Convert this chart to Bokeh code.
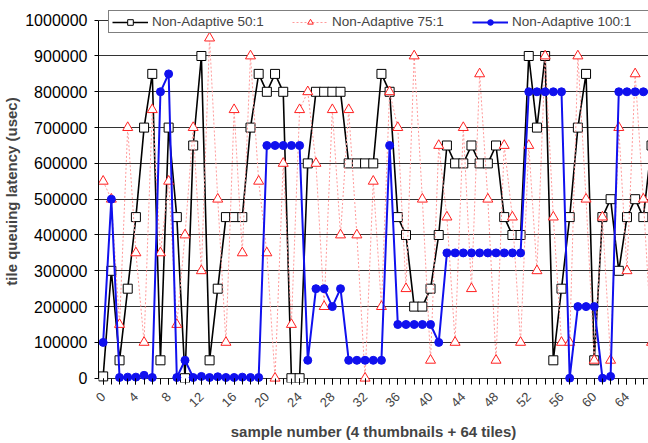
import math
from bokeh.plotting import figure
from bokeh.models import (Range1d, FixedTicker, Legend, LegendItem,
                          NumeralTickFormatter)
from bokeh.embed import file_html
from bokeh.resources import INLINE

# ---- data ----
samples = list(range(68))
na_50 = [5000, 300000, 50000, 250000, 450000, 700000, 850000, 50000, 700000, 450000,
         0, 650000, 900000, 50000, 250000, 450000, 450000, 450000, 700000, 850000,
         800000, 850000, 800000, 0, 0, 600000, 800000, 800000, 800000, 800000,
         600000, 600000, 600000, 600000, 850000, 800000, 450000, 400000, 200000, 200000,
         250000, 400000, 650000, 600000, 600000, 650000, 600000, 600000, 650000, 450000,
         400000, 400000, 900000, 700000, 900000, 50000, 250000, 450000, 700000, 850000,
         50000, 450000, 500000, 300000, 450000, 500000, 450000, 650000]
na_75 = [550000, 500000, 150000, 700000, 350000, 100000, 750000, 350000, 550000, 150000,
         400000, 700000, 300000, 950000, 500000, 100000, 750000, 350000, 900000, 550000,
         350000, 0, 600000, 150000, 750000, 800000, 600000, 200000, 750000, 400000,
         750000, 400000, 0, 550000, 200000, 800000, 700000, 250000, 900000, 500000,
         50000, 650000, 450000, 100000, 700000, 250000, 850000, 500000, 50000, 650000,
         450000, 100000, 650000, 300000, 900000, 450000, 100000, 100000, 900000, 500000,
         50000, 450000, 50000, 700000, 300000, 850000, 500000, 100000]
na_100 = [100000, 500000, 2000, 3000, 3000, 8000, 2000, 800000, 850000, 2000,
          50000, 2000, 5000, 2000, 4000, 2000, 2000, 3000, 2000, 2000,
          650000, 650000, 650000, 650000, 650000, 50000, 250000, 250000, 200000, 250000,
          50000, 50000, 50000, 50000, 50000, 650000, 150000, 150000, 150000, 150000,
          150000, 100000, 350000, 350000, 350000, 350000, 350000, 350000, 350000, 350000,
          350000, 350000, 800000, 800000, 800000, 800000, 800000, 0, 200000, 200000,
          200000, 0, 5000, 800000, 800000, 800000, 800000, 800000]
x_ticks = list(range(0, 65, 4))
y_ticks = list(range(0, 1000001, 100000))
series_names = ["Non-Adaptive 50:1", "Non-Adaptive 75:1", "Non-Adaptive 100:1"]

FONT = "Liberation Sans"

p = figure(width=648, height=443, output_backend="svg", toolbar_location=None,
           x_range=Range1d(-0.57, 66.63), y_range=Range1d(-12000, 1055000),
           min_border_left=97, min_border_right=0, min_border_top=0,
           min_border_bottom=61)
p.outline_line_color = None
p.background_fill_color = "white"

# grid
p.xgrid.visible = False
p.ygrid.ticker = FixedTicker(ticks=y_ticks)
p.ygrid.grid_line_color = "#333333"
p.ygrid.grid_line_width = 1

# y axis
yax = p.yaxis[0]
yax.ticker = FixedTicker(ticks=y_ticks)
yax.formatter = NumeralTickFormatter(format="0")
yax.bounds = (0, 1000000)
yax.axis_line_color = "black"
yax.major_tick_out = 4
yax.major_tick_in = 0
yax.minor_tick_line_color = None
yax.major_label_text_font = FONT
yax.major_label_text_font_size = "16px"
yax.major_label_text_color = "black"
yax.major_label_standoff = 7
yax.axis_label = "tile queuing latency (usec)"
yax.axis_label_text_font = FONT
yax.axis_label_text_font_style = "bold"
yax.axis_label_text_font_size = "15px"
yax.axis_label_standoff = 2

# x axis (frame bottom sits just below zero so markers at 0 are not clipped)
xax = p.xaxis[0]
xax.ticker = FixedTicker(ticks=x_ticks, minor_ticks=samples)
xax.axis_line_color = None
xax.major_tick_out = 2
xax.major_tick_in = 4
xax.minor_tick_out = 2
xax.minor_tick_in = 4
xax.major_label_orientation = math.pi / 4
xax.major_label_text_font = FONT
xax.major_label_text_font_size = "13px"
xax.major_label_standoff = 10
xax.axis_label = "sample number (4 thumbnails + 64 tiles)"
xax.axis_label_text_font = FONT
xax.axis_label_text_font_style = "bold"
xax.axis_label_text_font_size = "15px"
xax.axis_label_standoff = 9

# series
l50 = p.line(samples, na_50, line_color="black", line_width=1.6)
s50 = p.scatter(samples, na_50, marker="square", size=9, line_color="black",
                fill_color="white", line_width=1)
l75 = p.line(samples, na_75, line_color="#ff9a9a", line_width=1, line_dash="2 2")
s75 = p.scatter(samples, na_75, marker="triangle", size=10, line_color="#ff2020",
                fill_color="white", line_width=1)
l100 = p.line(samples, na_100, line_color="#1010ee", line_width=2)
s100 = p.scatter(samples, na_100, marker="circle", size=8, line_color="#1010ee",
                 fill_color="#1010ee")

legend = Legend(items=[
    LegendItem(label=series_names[0], renderers=[l50, s50]),
    LegendItem(label=series_names[1], renderers=[l75, s75]),
    LegendItem(label=series_names[2], renderers=[l100, s100]),
], orientation="horizontal", location=(10, 349))
legend.label_text_font = FONT
legend.label_text_font_size = "13.5px"
legend.border_line_color = "black"
legend.border_line_width = 1
legend.background_fill_color = "white"
legend.background_fill_alpha = 1
legend.padding = 3
legend.spacing = 0
legend.glyph_width = 36
legend.glyph_height = 14
legend.label_standoff = 4
legend.label_height = 14
legend.label_width = 140
legend.margin = 0
p.add_layout(legend, "center")

open("out.html", "w").write(file_html(p, INLINE))
